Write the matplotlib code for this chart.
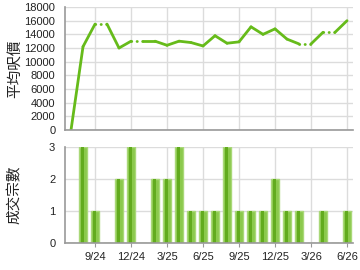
import numpy as np
import matplotlib
matplotlib.use('Agg')
import matplotlib.pyplot as plt

plt.rcParams['font.family'] = ['Liberation Sans', 'Noto Sans CJK TC', 'DejaVu Sans']

# Dane miesięczne: 7/24 .. 6/26
months = ['7/24', '8/24', '9/24', '10/24', '11/24', '12/24', '1/25', '2/25', '3/25',
          '4/25', '5/25', '6/25', '7/25', '8/25', '9/25', '10/25', '11/25', '12/25',
          '1/26', '2/26', '3/26', '4/26', '5/26', '6/26']
avg_price = [0, 12200, 15500, 15500, 12000, 13000, 13000, 13000, 12400,
             13000, 12800, 12300, 13800, 12700, 12900, 15100, 14000, 14800,
             13300, 12600, 12600, 14300, 14300, 16000]
deals = [0, 3, 1, 0, 2, 3, 0, 2, 2, 3, 1, 1, 1, 3, 1, 1, 1, 2, 1, 1, 0, 1, 0, 1]
tick_labels = ['9/24', '12/24', '3/25', '6/25', '9/25', '12/25', '3/26', '6/26']

x = np.arange(len(months))
tick_pos = [months.index(t) for t in tick_labels]

green = '#66bb1a'
grid_c = '#dcdcdc'
spine_c = '#999999'
txt_c = '#222222'

fig = plt.figure(figsize=(3.6, 2.7), dpi=100)
ax1 = fig.add_axes([0.1806, 0.5185, 0.8, 0.4555])
ax2 = fig.add_axes([0.1806, 0.1, 0.8, 0.3556])

for ax in (ax1, ax2):
    ax.set_xlim(-0.5, 23.5)
    ax.set_xticks(tick_pos)
    ax.grid(True, color=grid_c, linewidth=1)
    ax.set_axisbelow(True)
    for s in ('top', 'right'):
        ax.spines[s].set_visible(False)
    for s in ('left', 'bottom'):
        ax.spines[s].set_color(spine_c)
        ax.spines[s].set_linewidth(1.2)
    ax.tick_params(axis='y', length=0, pad=7, labelsize=8, colors=txt_c)
    ax.tick_params(axis='x', length=3, color=spine_c, labelsize=8, colors=txt_c)

# Wykres ceny
ax1.set_ylim(0, 18000)
ax1.set_yticks(np.arange(0, 18001, 2000))
ax1.set_xticklabels([])
ax1.tick_params(axis='x', length=0)
for i in range(len(x) - 1):
    if deals[i + 1] == 0:
        ax1.plot(x[i:i + 2], avg_price[i:i + 2], color=green, linewidth=2,
                 linestyle=(0, (0.1, 1.9)), dash_capstyle='round')
    else:
        ax1.plot(x[i:i + 2], avg_price[i:i + 2], color=green, linewidth=2,
                 solid_capstyle='round')
ax1.set_ylabel('平均呎價', fontsize=10.5, color=txt_c)
ax1.yaxis.set_label_coords(-0.148, 0.5)

# Wykres liczby transakcji
ax2.set_ylim(0, 3)
ax2.set_yticks([0, 1, 2, 3])
ax2.set_xticklabels(tick_labels)
ax2.bar(x, deals, width=0.72, color='#8bc94c', edgecolor='#a9d878', linewidth=1.0)
ax2.bar(x - 0.05, deals, width=0.22, color='#62ab1e', linewidth=0)
ax2.set_ylabel('成交宗數', fontsize=10.5, color=txt_c)
ax2.yaxis.set_label_coords(-0.148, 0.5)

fig.savefig('out.png', dpi=100)
